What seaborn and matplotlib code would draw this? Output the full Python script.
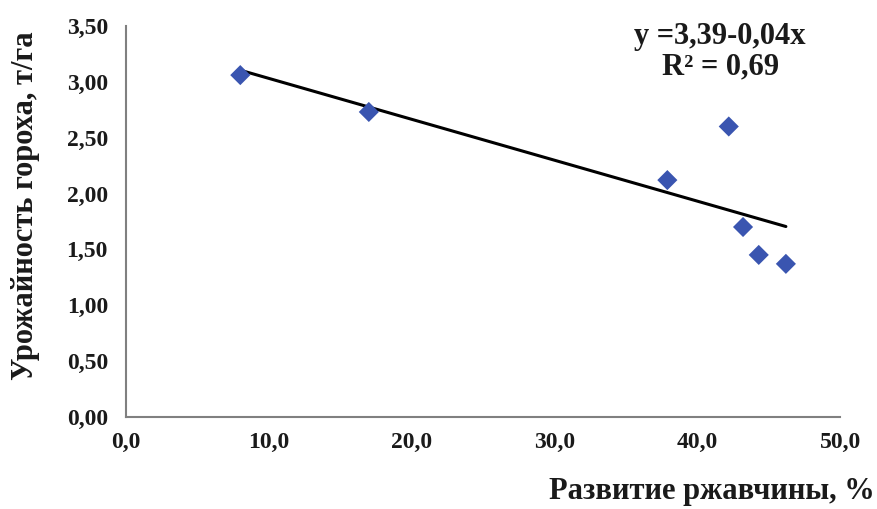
import numpy as np
import pandas as pd
import matplotlib
matplotlib.use("Agg")
import matplotlib.pyplot as plt
import seaborn as sns

# rust development, % / pea yield, t/ha
rust = [8.0, 17.0, 37.9, 42.2, 43.2, 44.3, 46.2]
yield_t = [3.06, 2.73, 2.12, 2.60, 1.70, 1.45, 1.37]
x_ticks = [0, 10, 20, 30, 40, 50]
y_ticks = [0, 0.5, 1.0, 1.5, 2.0, 2.5, 3.0, 3.5]

df = pd.DataFrame({"rust": rust, "yield": yield_t})

sns.set_style("white")
plt.rcParams["font.family"] = ["Liberation Serif", "DejaVu Serif"]

fig = plt.figure(figsize=(8.77, 5.09), dpi=100)
ax = fig.add_axes([0.1437, 0.181, 0.8143, 0.768])

# trend line fitted from the points, drawn over the data range
sns.regplot(data=df, x="rust", y="yield", ax=ax, scatter=False, ci=None,
            truncate=True, line_kws={"color": "black", "lw": 2.2})
sns.scatterplot(data=df, x="rust", y="yield", ax=ax, marker="D", s=105,
                color="#3a55b0", edgecolor="none", zorder=3)

ax.set_xlim(0, 50)
ax.set_ylim(0, 3.5)
ax.set_xticks(x_ticks)
ax.set_yticks(y_ticks)
ax.set_xticklabels([f"{v:.1f}".replace(".", ",") for v in x_ticks],
                   fontsize=17, fontweight="bold", color="#1a1a1a")
ax.set_yticklabels([f"{v:.2f}".replace(".", ",") for v in y_ticks],
                   fontsize=17, fontweight="bold", color="#1a1a1a")
ax.tick_params(axis="both", direction="out", length=5, width=1.2,
               color="#808080")
ax.tick_params(axis="y", pad=8)
ax.tick_params(axis="x", pad=6)

for side in ["top", "right"]:
    ax.spines[side].set_visible(False)
for side in ["left", "bottom"]:
    ax.spines[side].set_color("#808080")
    ax.spines[side].set_linewidth(1.5)

ax.set_xlabel("")
ax.set_ylabel("")
fig.text(0.029, 0.595, "Урожайность гороха, т/га", rotation=90,
         ha="center", va="center", fontsize=22, fontweight="bold",
         color="#1a1a1a")
fig.text(0.998, 0.035, "Развитие ржавчины, %", ha="right", va="center",
         fontsize=22, fontweight="bold", color="#1a1a1a")

ax.text(0.832, 0.974, "y =3,39-0,04x", transform=ax.transAxes, ha="center",
        va="center", fontsize=22, fontweight="bold", color="#1a1a1a")
ax.text(0.832, 0.895, "R² = 0,69", transform=ax.transAxes, ha="center",
        va="center", fontsize=22, fontweight="bold", color="#1a1a1a")

fig.savefig("out.png", dpi=100)
